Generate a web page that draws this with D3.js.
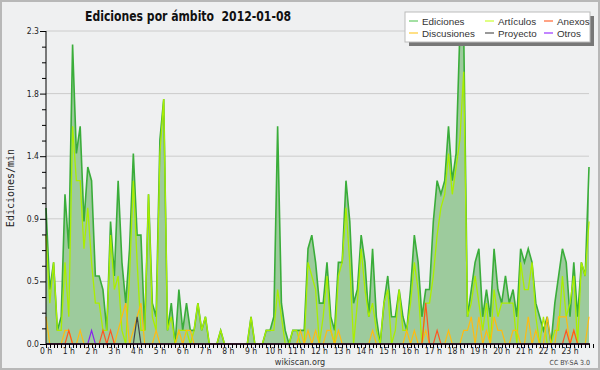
<!DOCTYPE html>
<html>
<head>
<meta charset="utf-8">
<script src="https://cdn.jsdelivr.net/npm/d3@7"></script>
<style>
  body { margin: 0; background: #fff; }
  svg { display: block; }
</style>
</head>
<body>
<div id="chart"></div>
<script>
// edits per minute, one value per 10 minute slot (144 slots)
const ediciones = [
  1.0, 0.4, 0.6, 0.1, 0.2, 1.1, 0.7, 2.2, 1.4, 1.6,
  0.9, 1.3, 1.2, 0.5, 0.5, 0.4, 0.1, 0.9, 0.5, 1.2,
  0.6, 0.3, 0.7, 1.4, 0.8, 0.8, 0.1, 1.1, 0.3, 0.2,
  1.5, 1.8, 0.1, 0.3, 0.0, 0.4, 0.1, 0.3, 0.1, 0.1,
  0.3, 0.1, 0.2, 0.0, 0.0, 0.0, 0.1, 0.0, 0.0, 0.0,
  0.0, 0.0, 0.0, 0.0, 0.2, 0.0, 0.0, 0.0, 0.1, 0.1,
  0.2, 1.6, 0.3, 0.1, 0.0, 0.1, 0.1, 0.1, 0.1, 0.7,
  0.8, 0.6, 0.3, 0.3, 0.6, 0.2, 0.1, 0.6, 0.6, 1.2,
  0.9, 0.3, 0.4, 0.8, 0.6, 0.2, 0.7, 0.2, 0.0, 0.3,
  0.5, 0.2, 0.2, 0.4, 0.2, 0.1, 0.4, 0.8, 0.6, 0.2,
  0.4, 0.4, 0.9, 1.2, 1.1, 1.2, 1.6, 1.2, 1.4, 2.3,
  2.3, 0.2, 0.4, 0.6, 0.7, 0.2, 0.4, 0.2, 0.7, 0.4,
  0.3, 0.5, 0.3, 0.4, 0.2, 0.7, 0.6, 0.7, 0.6, 0.3,
  0.2, 0.1, 0.2, 0.0, 0.3, 0.5, 0.7, 0.6, 0.2, 0.6,
  0.2, 0.6, 0.5, 1.3
];
const articulos = [
  0.8, 0.3, 0.6, 0.1, 0.1, 0.6, 0.2, 1.6, 1.2, 1.2,
  0.7, 1.0, 0.6, 0.3, 0.3, 0.1, 0.1, 0.8, 0.4, 0.5,
  0.1, 0.0, 0.5, 1.2, 0.6, 0.1, 0.1, 1.1, 0.2, 0.1,
  1.4, 1.8, 0.1, 0.2, 0.0, 0.1, 0.1, 0.1, 0.0, 0.1,
  0.3, 0.1, 0.2, 0.0, 0.0, 0.0, 0.1, 0.0, 0.0, 0.0,
  0.0, 0.0, 0.0, 0.0, 0.2, 0.0, 0.0, 0.0, 0.1, 0.1,
  0.1, 0.4, 0.2, 0.0, 0.0, 0.1, 0.1, 0.0, 0.0, 0.6,
  0.5, 0.4, 0.0, 0.2, 0.5, 0.1, 0.0, 0.5, 0.6, 1.0,
  0.6, 0.0, 0.3, 0.7, 0.4, 0.2, 0.3, 0.1, 0.0, 0.3,
  0.4, 0.0, 0.1, 0.4, 0.1, 0.1, 0.3, 0.6, 0.4, 0.0,
  0.3, 0.3, 0.5, 0.8, 1.0, 1.1, 1.4, 1.1, 1.3, 1.5,
  2.0, 0.2, 0.3, 0.5, 0.3, 0.1, 0.3, 0.0, 0.4, 0.2,
  0.3, 0.3, 0.3, 0.3, 0.0, 0.6, 0.4, 0.4, 0.6, 0.2,
  0.0, 0.2, 0.0, 0.0, 0.1, 0.1, 0.5, 0.2, 0.3, 0.5,
  0.0, 0.6, 0.5, 0.9
];
const discusiones = [
  0.2, 0.0, 0.0, 0.0, 0.0, 0.1, 0.1, 0.0, 0.0, 0.1,
  0.0, 0.0, 0.0, 0.0, 0.0, 0.0, 0.0, 0.0, 0.0, 0.1,
  0.2, 0.3, 0.0, 0.1, 0.2, 0.3, 0.0, 0.0, 0.0, 0.1,
  0.0, 0.0, 0.0, 0.0, 0.0, 0.1, 0.0, 0.1, 0.1, 0.0,
  0.0, 0.0, 0.0, 0.0, 0.0, 0.0, 0.0, 0.0, 0.0, 0.0,
  0.0, 0.0, 0.0, 0.0, 0.0, 0.0, 0.0, 0.0, 0.0, 0.0,
  0.0, 0.0, 0.0, 0.0, 0.0, 0.0, 0.0, 0.1, 0.0, 0.1,
  0.0, 0.1, 0.0, 0.0, 0.1, 0.1, 0.0, 0.1, 0.0, 0.0,
  0.0, 0.0, 0.0, 0.0, 0.0, 0.0, 0.1, 0.0, 0.0, 0.0,
  0.0, 0.0, 0.0, 0.0, 0.0, 0.1, 0.0, 0.1, 0.0, 0.0,
  0.1, 0.0, 0.0, 0.0, 0.0, 0.0, 0.1, 0.0, 0.0, 0.0,
  0.1, 0.1, 0.2, 0.0, 0.2, 0.0, 0.1, 0.0, 0.2, 0.1,
  0.1, 0.0, 0.0, 0.1, 0.1, 0.0, 0.0, 0.2, 0.0, 0.1,
  0.0, 0.0, 0.2, 0.0, 0.0, 0.2, 0.2, 0.2, 0.0, 0.1,
  0.0, 0.0, 0.0, 0.2
];
// sparse series: slot index -> value
const anexos = { 6: 0.1, 15: 0.1, 17: 0.1, 100: 0.3, 103: 0.1, 137: 0.1, 139: 0.1 };
const proyecto = { 24: 0.2 };
const otros = { 12: 0.1 };

const hourLabels = d3.range(24).map(h => h + " h");
const yMax = 2.3;
const yTickLabels = ["0.0", "0.5", "0.9", "1.4", "1.8", "2.3"];

const legendItems = [
  { name: "Ediciones", color: "#66cc66", col: 0, row: 0 },
  { name: "Discusiones", color: "#ffcc33", col: 0, row: 1 },
  { name: "Artículos", color: "#ccff33", col: 1, row: 0 },
  { name: "Proyecto", color: "#555555", col: 1, row: 1 },
  { name: "Anexos", color: "#ff6633", col: 2, row: 0 },
  { name: "Otros", color: "#9933ff", col: 2, row: 1 }
];

const width = 600, height = 370;
const margin = { left: 46, right: 11, top: 31, bottom: 26 };
const font = "'DejaVu Sans Condensed', 'Liberation Sans Narrow', 'DejaVu Sans', sans-serif";

const n = ediciones.length;
const expand = obj => d3.range(n).map(i => obj[i] || 0);

const svg = d3.select("#chart").append("svg")
  .attr("width", width)
  .attr("height", height)
  .attr("font-family", font);

// background + frame
svg.append("rect")
  .attr("x", 1).attr("y", 1)
  .attr("width", width - 2).attr("height", height - 2)
  .attr("fill", "#eff0f1")
  .attr("stroke", "#b8b8b8")
  .attr("stroke-width", 2);

const x = d3.scaleLinear().domain([0, n - 1]).range([margin.left, width - margin.right]);
const y = d3.scaleLinear().domain([0, yMax]).range([height - margin.bottom, margin.top]);

// grid
const majorTicks = d3.range(6).map(i => yMax * i / 5);
svg.append("g")
  .selectAll("line")
  .data(majorTicks.slice(1))
  .join("line")
  .attr("x1", x(0)).attr("x2", x(n - 1))
  .attr("y1", d => y(d)).attr("y2", d => y(d))
  .attr("stroke", "#cccccc")
  .attr("stroke-width", 1);

// Ediciones area
const area = d3.area()
  .x((d, i) => x(i))
  .y0(y(0))
  .y1(d => y(d));

svg.append("path")
  .datum(ediciones)
  .attr("d", area)
  .attr("fill", "#9dcb9d");

const line = d3.line()
  .x((d, i) => x(i))
  .y(d => y(d));

const series = [
  { data: ediciones, color: "#3aad3a", w: 1.6 },
  { data: articulos, color: "#aaee00", w: 1.3 },
  { data: discusiones, color: "#ffbb11", w: 1.2 },
  { data: expand(proyecto), color: "#444444", w: 1.2 },
  { data: expand(anexos), color: "#ff5522", w: 1.2 },
  { data: expand(otros), color: "#8822ee", w: 1.2 }
];

svg.append("g")
  .selectAll("path")
  .data(series)
  .join("path")
  .attr("d", d => line(d.data))
  .attr("fill", "none")
  .attr("stroke", d => d.color)
  .attr("stroke-width", d => d.w)
  .attr("stroke-linejoin", "miter");

// y axis
const yAxis = svg.append("g").attr("transform", `translate(${margin.left},0)`);
yAxis.append("line")
  .attr("x1", 0).attr("x2", 0)
  .attr("y1", y(yMax)).attr("y2", y(0))
  .attr("stroke", "#000");
yAxis.selectAll(".minor")
  .data(d3.range(21).map(i => yMax * i / 20))
  .join("line")
  .attr("class", "minor")
  .attr("x1", d => (Math.round(d / yMax * 20) % 4 === 0 ? -6 : -4)).attr("x2", 0)
  .attr("y1", d => y(d) + 0.5).attr("y2", d => y(d) + 0.5)
  .attr("stroke", "#000");
yAxis.selectAll("text")
  .data(majorTicks)
  .join("text")
  .attr("x", -7)
  .attr("y", d => y(d) + 3)
  .attr("text-anchor", "end")
  .attr("font-size", 8.5)
  .attr("fill", "#222")
  .text((d, i) => yTickLabels[i]);

// x axis
const xAxis = svg.append("g").attr("transform", `translate(0,${y(0)})`);
xAxis.append("line")
  .attr("x1", x(0)).attr("x2", x(n - 1) + 1)
  .attr("y1", 0).attr("y2", 0)
  .attr("stroke", "#000")
  .attr("stroke-width", 1.5);
xAxis.selectAll(".tick")
  .data(d3.range(n + 1))
  .join("line")
  .attr("class", "tick")
  .attr("x1", d => Math.round(x(d)) + 0.5).attr("x2", d => Math.round(x(d)) + 0.5)
  .attr("y1", 0).attr("y2", 4)
  .attr("stroke", "#000");
xAxis.selectAll("text")
  .data(hourLabels)
  .join("text")
  .attr("x", (d, i) => x(i * 6))
  .attr("y", 10)
  .attr("text-anchor", "middle")
  .attr("font-size", 8.5)
  .attr("fill", "#222")
  .text(d => d);

// y axis title
svg.append("text")
  .attr("transform", "translate(14,188) rotate(-90)")
  .attr("text-anchor", "middle")
  .attr("font-family", "'DejaVu Sans Mono', monospace")
  .attr("font-size", 10)
  .attr("fill", "#222")
  .text("Ediciones/min");

// title (two spaces before the date)
svg.append("text")
  .attr("x", 85).attr("y", 21)
  .attr("font-size", 14)
  .attr("font-weight", "bold")
  .attr("fill", "#111")
  .style("white-space", "pre")
  .attr("textLength", 206)
  .attr("lengthAdjust", "spacingAndGlyphs")
  .text("Ediciones por ámbito  2012-01-08");

// legend
const legend = svg.append("g").attr("transform", "translate(405,12)");
legend.append("rect")
  .attr("x", 4).attr("y", 4).attr("width", 185).attr("height", 30)
  .attr("fill", "#777");
legend.append("rect")
  .attr("x", 0).attr("y", 0).attr("width", 185).attr("height", 30)
  .attr("fill", "#fff")
  .attr("stroke", "#bbb");
const colX = [4, 80, 139];
const entry = legend.selectAll(".entry")
  .data(legendItems)
  .join("g")
  .attr("class", "entry")
  .attr("transform", d => `translate(${colX[d.col]},${d.row ? 21 : 9})`);
entry.append("line")
  .attr("x1", 0).attr("x2", 9)
  .attr("stroke", d => d.color)
  .attr("stroke-width", 1.2);
entry.append("text")
  .attr("x", 13).attr("y", 4)
  .attr("font-family", "'Liberation Sans', Arial, sans-serif")
  .attr("font-size", 9.8)
  .attr("fill", "#333")
  .text(d => d.name);

// footer
svg.append("text")
  .attr("x", 300).attr("y", 365)
  .attr("text-anchor", "middle")
  .attr("font-size", 9)
  .attr("fill", "#333")
  .text("wikiscan.org");
svg.append("text")
  .attr("x", 590).attr("y", 365)
  .attr("text-anchor", "end")
  .attr("font-size", 7)
  .attr("fill", "#444")
  .text("CC BY-SA 3.0");
</script>
</body>
</html>
